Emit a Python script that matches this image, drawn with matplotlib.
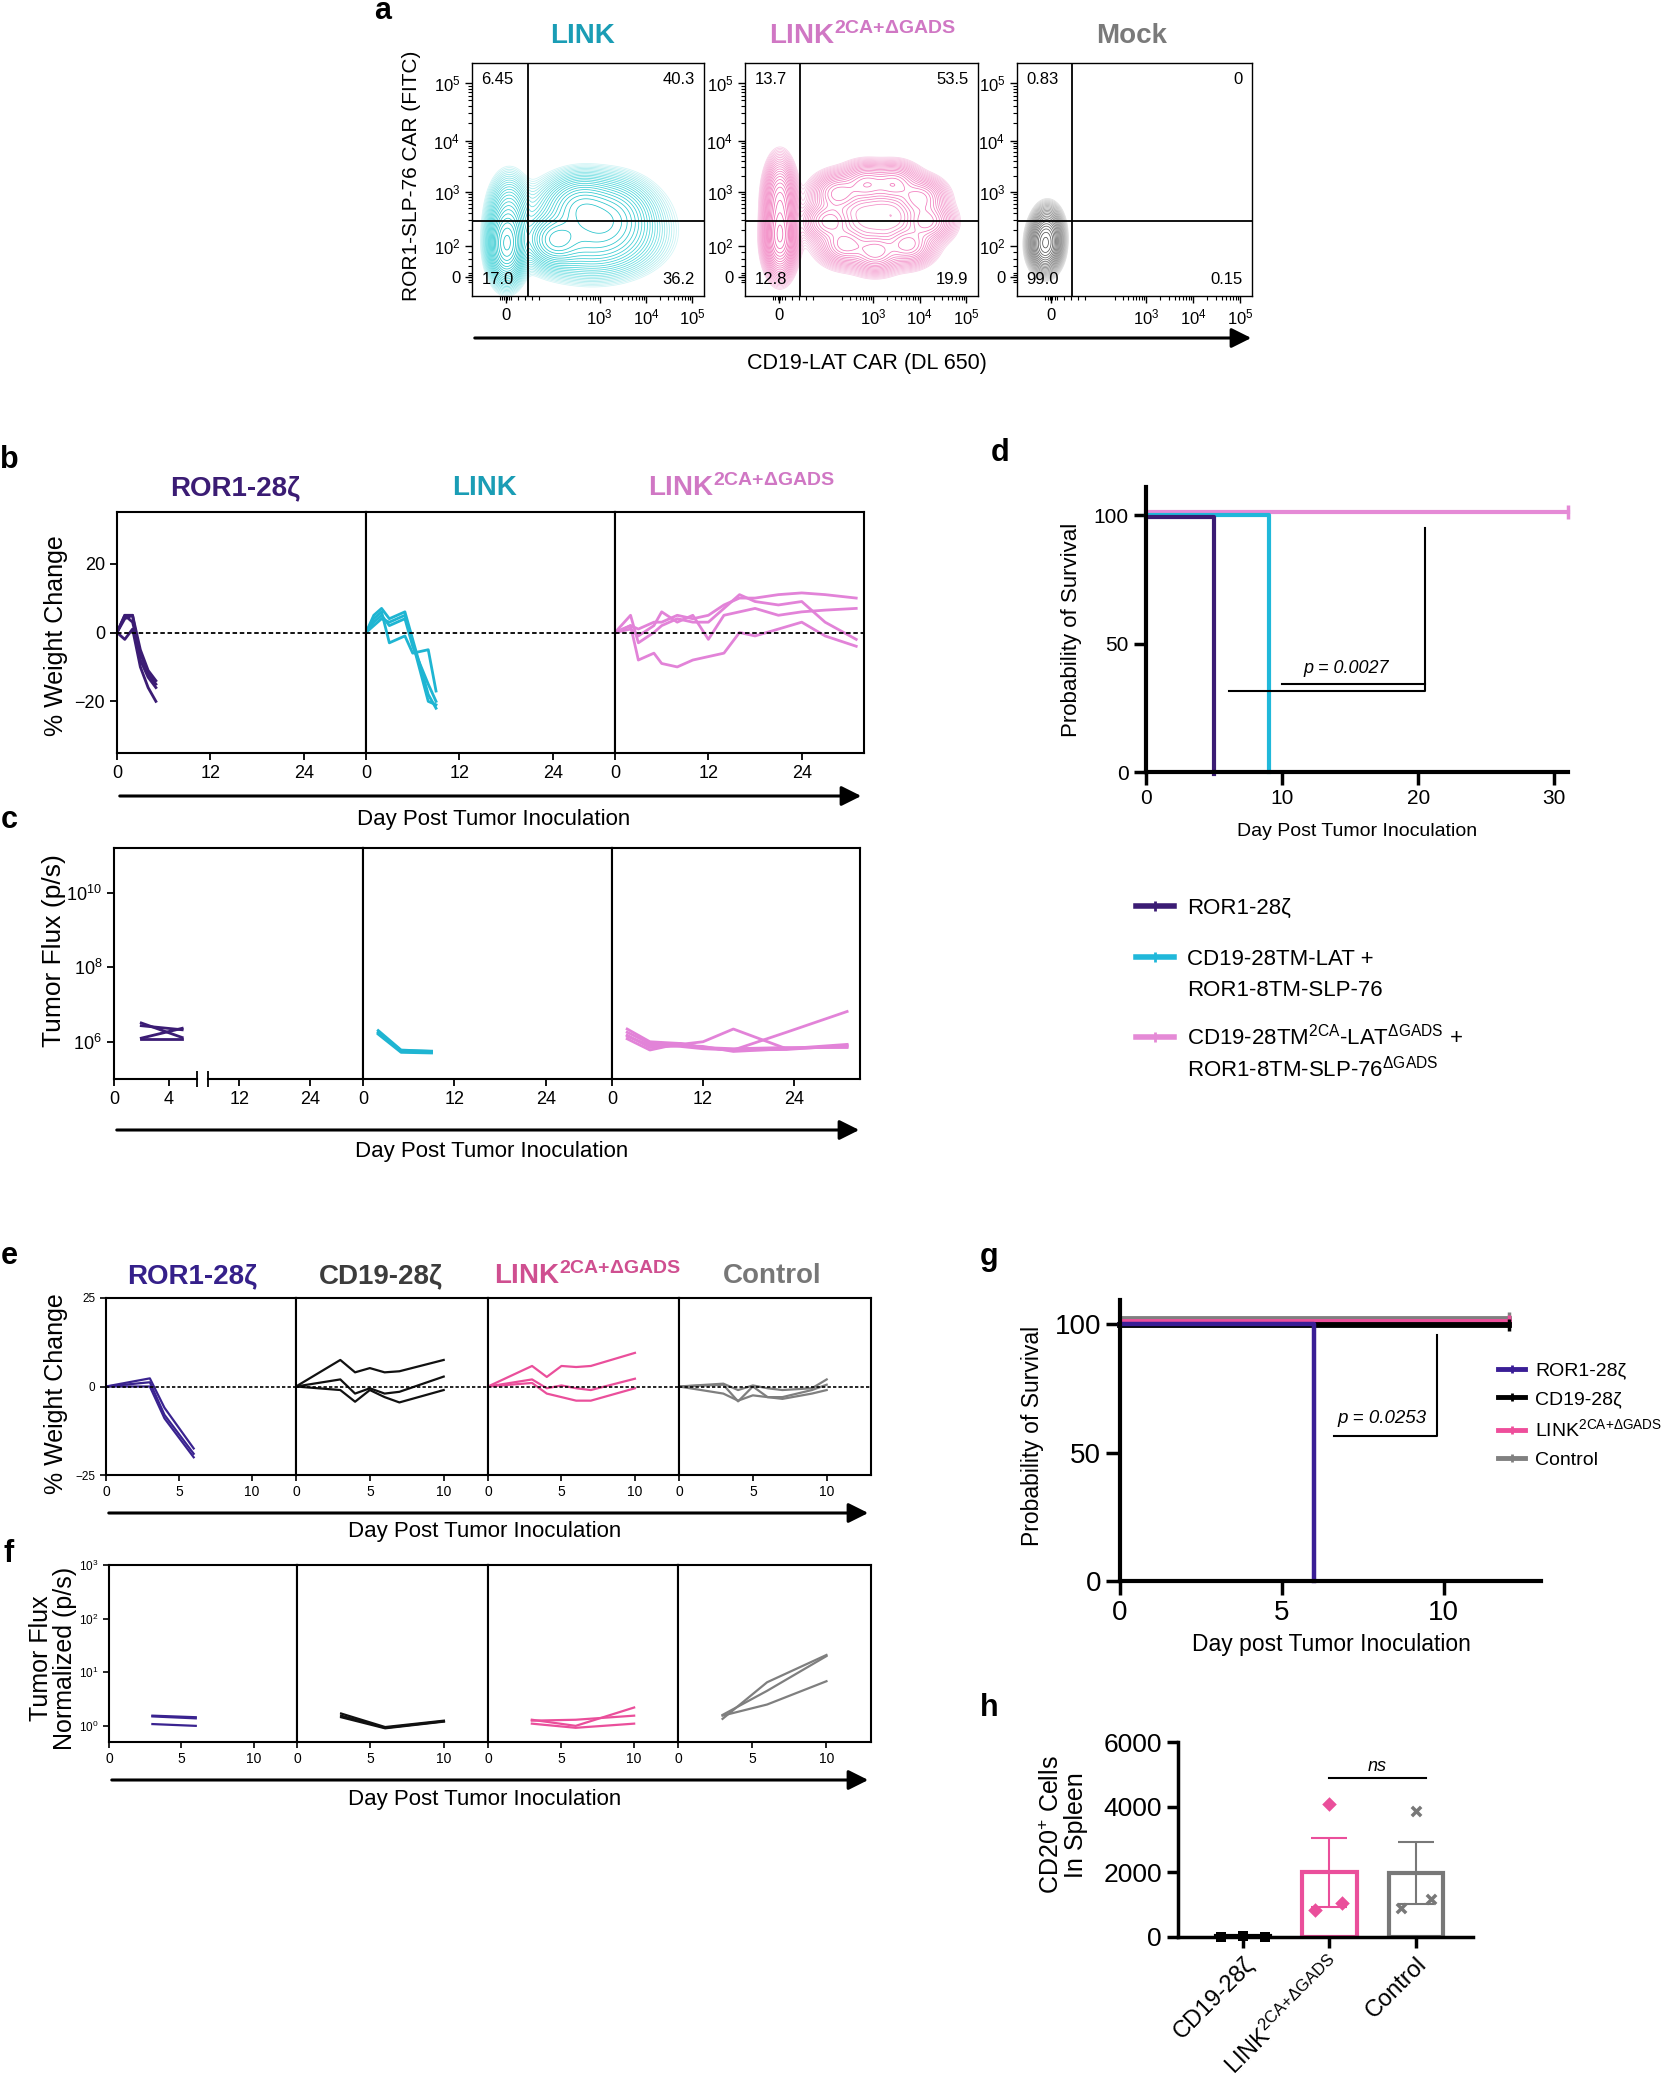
import numpy as np
import matplotlib
matplotlib.use('Agg')
import matplotlib.pyplot as plt
from matplotlib.colors import LinearSegmentedColormap, LogNorm
from matplotlib.lines import Line2D
from matplotlib.patches import FancyArrowPatch
from matplotlib.ticker import NullLocator
from matplotlib import font_manager

names = {f.name for f in font_manager.fontManager.ttflist}
NARROW = 'Liberation Sans Narrow' if 'Liberation Sans Narrow' in names else 'Liberation Sans'

plt.rcParams['font.family'] = ['Liberation Sans', 'DejaVu Sans']
plt.rcParams['mathtext.fontset'] = 'custom'
plt.rcParams['mathtext.rm'] = 'Liberation Sans'
plt.rcParams['mathtext.it'] = 'Liberation Sans:italic'
plt.rcParams['mathtext.bf'] = 'Liberation Sans:bold'

# ---------------- data ----------------
# a: flow populations (x, y, sx, sy, weight) on the biexponential display axes (0..1)
a_link_pops = [(0.15, 0.22, 0.035, 0.07, 1.0), (0.16, 0.34, 0.04, 0.08, 0.25),
               (0.36, 0.24, 0.055, 0.05, 0.55), (0.47, 0.38, 0.07, 0.06, 0.45),
               (0.60, 0.34, 0.08, 0.07, 0.40), (0.52, 0.24, 0.12, 0.07, 0.35),
               (0.50, 0.32, 0.15, 0.09, 0.12)]
a_link2_pops = [(0.15, 0.25, 0.03, 0.07, 1.0), (0.15, 0.40, 0.03, 0.08, 0.6),
                (0.40, 0.44, 0.05, 0.04, 0.3), (0.52, 0.48, 0.05, 0.04, 0.3),
                (0.64, 0.48, 0.05, 0.04, 0.3), (0.75, 0.42, 0.05, 0.04, 0.3),
                (0.78, 0.32, 0.05, 0.04, 0.3), (0.70, 0.22, 0.05, 0.04, 0.3),
                (0.56, 0.19, 0.05, 0.04, 0.3), (0.43, 0.22, 0.05, 0.04, 0.3),
                (0.36, 0.32, 0.05, 0.04, 0.3), (0.55, 0.33, 0.14, 0.10, 0.08)]
a_mock_pops = [(0.12, 0.22, 0.03, 0.05, 1.0), (0.13, 0.28, 0.03, 0.05, 0.3)]
a_titles = ['LINK', r'LINK$^{\mathbf{2CA{+}ΔGADS}}$', 'Mock']
a_quadrants = [['6.45', '40.3', '17.0', '36.2'],
               ['13.7', '53.5', '12.8', '19.9'],
               ['0.83', '0', '99.0', '0.15']]
a_gate_x = [0.243, 0.236, 0.234]
a_gate_y = 0.322

# b: % weight change
b_days_ror1 = [0, 1, 2, 3, 4, 5]
b_wt_ror1 = [[0, 5, 5, -5, -11, -14], [0, 4, 5, -8, -13, -16],
             [0, -2, 1, -10, -16, -20], [0, 5, 3, -6, -12, -15]]
b_days_link = [0, 1, 2, 3, 4, 5, 6, 8, 9]
b_wt_link = [[0, 5, 7, 4, 5, 6, -2, -18, -22], [0, 3, 5, 2, 3, 4, -4, -15, -20],
             [0, 4, 6, -3, -2, -1, -6, -5, -17], [0, 2, 4, 3, 4, 5, -3, -20, -21]]
b_days_link2 = [0, 2, 3, 5, 6, 8, 10, 12, 14, 16, 18, 21, 24, 27, 31]
b_wt_link2 = [[0, 2, 1, 3, 3, 5, 4, 5, 8, 10, 10, 11, 11.5, 11, 10],
              [0, 5, -3, 0, 2, 4, 3, 3, 7, 11, 9, 8, 9, 3, -2],
              [0, 2, -8, -6, -9, -10, -8, -7, -6, 0, -1, 1, 3, -1, -4],
              [0, 1, -1, 2, 6, 3, 5, -2, 5, 6, 7, 5, 6, 6.5, 7]]
b_titles = ['ROR1-28ζ', 'LINK', r'LINK$^{\mathbf{2CA{+}ΔGADS}}$']

# c: tumor flux (p/s)
c_days_ror1 = [2, 5]
c_flux_ror1 = [[3.2e6, 1.3e6], [2.7e6, 2.1e6], [1.25e6, 2.3e6], [1.2e6, 1.2e6]]
c_days_link = [2, 5, 9]
c_flux_link = [[2.0e6, 6.0e5, 5.5e5], [1.8e6, 5.5e5, 5.2e5],
               [1.6e6, 5.2e5, 5.0e5], [1.7e6, 5.8e5, 5.6e5]]
c_days_link2 = [2, 5, 9, 12, 16, 23, 31]
c_flux_link2 = [[2.2e6, 1.0e6, 9.0e5, 7.0e5, 6.0e5, 1.8e6, 6.5e6],
                [1.8e6, 9.0e5, 8.5e5, 1.0e6, 2.2e6, 6.5e5, 7.5e5],
                [1.5e6, 7.0e5, 8.0e5, 7.5e5, 5.5e5, 6.5e5, 8.5e5],
                [1.2e6, 6.0e5, 9.0e5, 7.0e5, 6.5e5, 7.0e5, 7.0e5],
                [1.4e6, 8.0e5, 7.5e5, 6.5e5, 6.0e5, 6.2e5, 8.0e5]]

# d: survival
d_time_ror1, d_surv_ror1 = [0, 5], [100, 0]
d_time_link, d_surv_link = [0, 9], [100, 0]
d_time_link2, d_surv_link2 = [0, 31], [100, 100]
d_labels = [['ROR1-28ζ'],
            ['CD19-28TM-LAT +', 'ROR1-8TM-SLP-76'],
            [r'CD19-28TM$^{\mathregular{2CA}}$-LAT$^{\mathregular{ΔGADS}}$ +',
             r'ROR1-8TM-SLP-76$^{\mathregular{ΔGADS}}$']]

# e: % weight change (second model)
e_days_ror1 = [0, 3, 4, 6]
e_wt_ror1 = [[0, 2.3, -6, -17.5], [0, 1.2, -8, -19], [0, 0, -9, -20]]
e_days_cd19 = [0, 3, 4, 5, 6, 7, 10]
e_wt_cd19 = [[0, 7.5, 4, 5.2, 4, 4.3, 7.5], [0, 2, -2, -0.5, -2, -1.5, 2.8],
             [0, -1, -4.3, -1, -3, -4.5, -1]]
e_days_link2 = [0, 3, 4, 5, 6, 7, 10]
e_wt_link2 = [[0, 5.8, 2.7, 5.8, 5.5, 5.8, 9.5], [0, 2, -0.5, 0.3, -0.5, -1, 2.2],
              [0, 1, -2, -3, -4, -4, -0.5]]
e_days_ctrl = [0, 3, 4, 5, 6, 7, 9, 10]
e_wt_ctrl = [[0, 0.8, -1, 0.3, -0.5, -1, -0.5, 2], [0, 0.5, -4.2, 0, -3, -3.5, -2, -1],
             [0, -2, -4, -2.5, -3, -3, -1, 0.5]]
e_titles = ['ROR1-28ζ', 'CD19-28ζ', r'LINK$^{\mathbf{2CA{+}ΔGADS}}$', 'Control']

# f: normalized tumor flux
f_days = [3, 6, 10]
f_flux_ror1 = [[1.55, 1.45], [1.5, 1.38], [1.08, 1.0]]
f_flux_cd19 = [[1.7, 0.95, 1.25], [1.55, 0.92, 1.22], [1.45, 0.9, 1.2]]
f_flux_link2 = [[1.3, 1.0, 2.2], [1.25, 1.3, 1.55], [1.1, 0.92, 1.1]]
f_flux_ctrl = [[1.35, 6.5, 21], [1.6, 4.5, 20], [1.55, 2.5, 6.8]]

# g: survival (second model)
g_time_ror1, g_surv_ror1 = [0, 6], [100, 0]
g_time_cd19, g_surv_cd19 = [0, 12], [100, 100]
g_time_link2, g_surv_link2 = [0, 12], [100, 100]
g_time_ctrl, g_surv_ctrl = [0, 12], [100, 100]
g_labels = ['ROR1-28ζ', 'CD19-28ζ', r'LINK$^{\mathregular{2CA{+}ΔGADS}}$', 'Control']

# h: CD20+ cells in spleen
h_groups = ['CD19-28ζ', r'LINK$^{\mathregular{2CA{+}ΔGADS}}$', 'Control']
h_vals_cd19 = [10, 40, 10]
h_vals_link2 = [4100, 820, 1040]
h_vals_ctrl = [3870, 880, 1160]

# colours
C_PURPLE = '#3B1C74'
C_CYAN = '#1FB5D2'
C_ORCHID = '#E283D8'
C_E_PURPLE = '#3A2390'
C_PINK = '#EA4F9B'
C_GREY = '#7F7F7F'

W, H = 1676, 2100
fig = plt.figure(figsize=(W / 100, H / 100), dpi=100)


def add_ax(x0, y0, x1, y1):
    return fig.add_axes([x0 / W, 1 - y1 / H, (x1 - x0) / W, (y1 - y0) / H])


def ftext(x, y, s, **kw):
    return fig.text(x / W, 1 - y / H, s, **kw)


def arrow(x0, x1, y):
    fig.add_artist(FancyArrowPatch((x0 / W, 1 - y / H), (x1 / W, 1 - y / H),
                                   transform=fig.transFigure, arrowstyle='-|>',
                                   mutation_scale=30, lw=2.2, color='black'))


def frame(ax, lw=1.5):
    for s in ax.spines.values():
        s.set_linewidth(lw)


# ---------------- panel a ----------------
gx, gy = np.meshgrid(np.linspace(0, 1, 300), np.linspace(0, 1, 300))


def density(pops):
    z = np.zeros_like(gx)
    for cx, cy, sx, sy, w in pops:
        z += w * np.exp(-0.5 * (((gx - cx) / sx) ** 2 + ((gy - cy) / sy) ** 2))
    return z


flow_xpos = [0.145, 0.55, 0.75, 0.95]
flow_xlab = ['0', '$10^3$', '$10^4$', '$10^5$']
flow_ypos = [0.08, 0.213, 0.448, 0.667, 0.914]
flow_ylab = ['0', '$10^2$', '$10^3$', '$10^4$', '$10^5$']
x_dec = [0.36, 0.55, 0.75, 0.95]
y_dec = [0.213, 0.448, 0.667, 0.914]
x_minor = [0.12, 0.13, 0.14, 0.15, 0.16, 0.17, 0.2, 0.23, 0.26, 0.29]
y_minor = [0.06, 0.07, 0.09, 0.10, 0.13, 0.16, 0.19]
for dec, minor in ((x_dec, x_minor), (y_dec, y_minor)):
    for k in range(len(dec) - 1):
        for m in range(2, 10):
            minor.append(dec[k] + (dec[k + 1] - dec[k]) * np.log10(m))

a_cmaps = [['#D2F5F6', '#4CD6DB', '#18BEC6'],
           ['#F9D2E9', '#F38FC8', '#EF62B0'],
           ['#E0E0E0', '#8E8E8E', '#505050']]
a_title_cols = ['#1A9DB5', '#D077C4', '#7A7A7A']
a_edges = [(472, 704), (745, 978), (1017, 1252)]
a_centers = [583, 862, 1132]
for i, pops in enumerate([a_link_pops, a_link2_pops, a_mock_pops]):
    ax = add_ax(a_edges[i][0], 63, a_edges[i][1], 296)
    z = density(pops)
    lv = np.geomspace(z.max() * 0.006, z.max() * 0.92, 24)
    cmap = LinearSegmentedColormap.from_list('c', a_cmaps[i])
    ax.contour(gx, gy, z, levels=lv, cmap=cmap, norm=LogNorm(lv[0], lv[-1]),
               linewidths=0.55)
    ax.axvline(a_gate_x[i], color='black', lw=1.3)
    ax.axhline(a_gate_y, color='black', lw=1.3)
    ax.set_xlim(0, 1)
    ax.set_ylim(0, 1)
    ax.set_xticks(flow_xpos, flow_xlab)
    ax.set_yticks(flow_ypos, flow_ylab)
    ax.set_xticks(x_minor, minor=True)
    ax.set_yticks(y_minor, minor=True)
    ax.tick_params(labelsize=12, length=5, width=1, labelfontfamily=NARROW)
    ax.tick_params(which='minor', length=3, width=0.8)
    frame(ax, 1.0)
    q = a_quadrants[i]
    kw = dict(transform=ax.transAxes, fontsize=12, family=NARROW)
    ax.text(0.04, 0.93, q[0], ha='left', va='center', **kw)
    ax.text(0.96, 0.93, q[1], ha='right', va='center', **kw)
    ax.text(0.04, 0.07, q[2], ha='left', va='center', **kw)
    ax.text(0.96, 0.07, q[3], ha='right', va='center', **kw)
    ftext(a_centers[i], 36, a_titles[i], fontsize=20, fontweight='bold',
          color=a_title_cols[i], ha='center', va='center')

ftext(411, 176, 'ROR1-SLP-76 CAR (FITC)', fontsize=15, rotation=90, ha='center', va='center')
arrow(472, 1254, 338)
ftext(867, 363, 'CD19-LAT CAR (DL 650)', fontsize=15.5, ha='center', va='center')

# ---------------- panel b ----------------
b_groups = [(b_days_ror1, b_wt_ror1, C_PURPLE), (b_days_link, b_wt_link, C_CYAN),
            (b_days_link2, b_wt_link2, C_ORCHID)]
b_edges = [117, 366, 615, 864]
b_centers = [235, 484, 741]
b_title_cols = ['#3B1C74', '#1A9DB5', '#D077C4']
for i, (days, rows, col) in enumerate(b_groups):
    ax = add_ax(b_edges[i], 512, b_edges[i + 1], 753)
    for row in rows:
        ax.plot(days, row, color=col, lw=2)
    ax.axhline(0, color='black', lw=1.3, ls=(0, (2.5, 1.5)))
    ax.set_xlim(0, 32)
    ax.set_ylim(-35, 35)
    ax.set_xticks([0, 12, 24])
    ax.set_yticks([-20, 0, 20] if i == 0 else [])
    ax.tick_params(labelsize=13, length=5, width=1.3, labelfontfamily=NARROW)
    frame(ax)
    ftext(b_centers[i], 488, b_titles[i], fontsize=20, fontweight='bold',
          color=b_title_cols[i], ha='center', va='center')
ftext(56, 636, '% Weight Change', fontsize=18, rotation=90, ha='center', va='center')
arrow(117, 864, 796)
ftext(494, 819, 'Day Post Tumor Inoculation', fontsize=16, ha='center', va='center')

# ---------------- panel c ----------------
c_groups = [(c_days_ror1, c_flux_ror1, C_PURPLE), (c_days_link, c_flux_link, C_CYAN),
            (c_days_link2, c_flux_link2, C_ORCHID)]
c_edges = [114, 363, 612, 860]
brk_days = [0, 6.06, 6.7, 33.1]
brk_pos = [0, 147, 168, 443]
for i, (days, rows, col) in enumerate(c_groups):
    ax = add_ax(c_edges[i], 848, c_edges[i + 1], 1079)
    if i == 0:
        ax.set_xscale('function', functions=(lambda d: np.interp(d, brk_days, brk_pos),
                                             lambda p: np.interp(p, brk_pos, brk_days)))
        ax.set_xlim(0, 33.1)
        ax.set_xticks([0, 4, 12, 24])
        ax.spines['bottom'].set_visible(False)
        bt = ax.get_xaxis_transform()
        ax.plot([0, 6.06], [0, 0], color='black', lw=1.5, transform=bt, clip_on=False)
        ax.plot([6.7, 33.1], [0, 0], color='black', lw=1.5, transform=bt, clip_on=False)
        ax.plot([6.06, 6.7], [0, 0], ls='none', marker='|', ms=12, mew=1.3,
                color='black', transform=bt, clip_on=False)
    else:
        ax.set_xlim(0, 32.7)
        ax.set_xticks([0, 12, 24])
    for row in rows:
        ax.plot(days, row, color=col, lw=2)
    ax.set_yscale('log')
    ax.set_ylim(1e5, 1.6e11)
    ax.yaxis.set_minor_locator(NullLocator())
    if i == 0:
        ax.set_yticks([1e6, 1e8, 1e10], ['$10^6$', '$10^8$', '$10^{10}$'])
    else:
        ax.set_yticks([])
    ax.tick_params(labelsize=13, length=5, width=1.3, labelfontfamily=NARROW)
    frame(ax)
ftext(54, 951, 'Tumor Flux (p/s)', fontsize=19, rotation=90, ha='center', va='center')
arrow(114, 862, 1130)
ftext(492, 1152, 'Day Post Tumor Inoculation', fontsize=16, ha='center', va='center')

# ---------------- panel d ----------------
ax = add_ax(1146, 487, 1568, 772)
off = [-0.8, 0.0, 1.3]
d_cols = [C_PURPLE, '#20B8DA', '#E58AD6']
d_series = [(d_time_ror1, d_surv_ror1), (d_time_link, d_surv_link), (d_time_link2, d_surv_link2)]
for k in (2, 1, 0):
    t, s = d_series[k]
    ax.step(t, np.array(s) + off[k], where='post', color=d_cols[k], lw=3, clip_on=False)
ax.plot(d_time_link2[-1], d_surv_link2[-1] + off[2], marker='|', ms=10, mew=2.5,
        color=d_cols[2], clip_on=False)
ax.plot([20.5, 20.5, 6.1], [95.2, 31.7, 31.7], color='black', lw=1.5)
ax.plot([10, 20.5], [34.3, 34.3], color='black', lw=1.5)
ax.text(14.7, 40.4, 'p = 0.0027', fontsize=13, style='italic', ha='center', va='center')
ax.set_xlim(0, 31)
ax.set_ylim(0, 111)
ax.set_xticks([0, 10, 20, 30])
ax.set_yticks([0, 50, 100])
ax.spines[['top', 'right']].set_visible(False)
ax.spines[['left', 'bottom']].set_linewidth(3)
ax.tick_params(labelsize=15, length=9, width=2.5, labelfontfamily=NARROW)
ftext(1071, 630, 'Probability of Survival', fontsize=16, rotation=90, ha='center', va='center')
ftext(1357, 831, 'Day Post Tumor Inoculation', fontsize=14, ha='center', va='center')

# legend for b-d
leg_y = [[906], [957, 988], [1037, 1068]]
for k in range(3):
    yk = 1 - leg_y[k][0] / H
    fig.add_artist(Line2D([1136 / W, 1155 / W, 1174 / W], [yk, yk, yk], color=d_cols[k],
                          lw=4, marker='|', ms=7, mew=2, markevery=[1],
                          transform=fig.transFigure))
    for j, line in enumerate(d_labels[k]):
        ftext(1187, leg_y[k][j] + 8, line, fontsize=16, ha='left', va='baseline')

# ---------------- panel e ----------------
e_groups = [(e_days_ror1, e_wt_ror1, C_E_PURPLE), (e_days_cd19, e_wt_cd19, '#111111'),
            (e_days_link2, e_wt_link2, C_PINK), (e_days_ctrl, e_wt_ctrl, C_GREY)]
e_edges = [106, 296, 488, 679, 871]
e_centers = [192, 381, 587, 772]
e_title_cols = ['#35208A', '#3C3C3C', '#CF4F90', '#777777']
for i, (days, rows, col) in enumerate(e_groups):
    ax = add_ax(e_edges[i], 1298, e_edges[i + 1], 1475)
    for row in rows:
        ax.plot(days, row, color=col, lw=1.6)
    ax.axhline(0, color='black', lw=1.2, ls=(0, (2, 1.3)))
    ax.set_xlim(0, 13)
    ax.set_ylim(-25, 25)
    ax.set_xticks([0, 5, 10])
    ax.set_yticks([-25, 0, 25] if i == 0 else [])
    ax.tick_params(axis='x', labelsize=10, length=4, width=1.2, labelfontfamily=NARROW)
    ax.tick_params(axis='y', labelsize=8.5, length=4, width=1.2, labelfontfamily=NARROW)
    frame(ax)
    ftext(e_centers[i], 1276, e_titles[i], fontsize=20, fontweight='bold',
          color=e_title_cols[i], ha='center', va='center')
ftext(56, 1394, '% Weight Change', fontsize=18, rotation=90, ha='center', va='center')
arrow(106, 871, 1513)
ftext(485, 1532, 'Day Post Tumor Inoculation', fontsize=16, ha='center', va='center')

# ---------------- panel f ----------------
f_groups = [(f_days[:2], f_flux_ror1, C_E_PURPLE), (f_days, f_flux_cd19, '#111111'),
            (f_days, f_flux_link2, C_PINK), (f_days, f_flux_ctrl, C_GREY)]
f_edges = [109, 297, 488, 678, 871]
for i, (days, rows, col) in enumerate(f_groups):
    ax = add_ax(f_edges[i], 1565, f_edges[i + 1], 1742)
    for row in rows:
        ax.plot(days, row, color=col, lw=1.6)
    ax.set_yscale('log')
    ax.set_ylim(0.5, 1000)
    ax.yaxis.set_minor_locator(NullLocator())
    ax.set_xlim(0, 13)
    ax.set_xticks([0, 5, 10])
    if i == 0:
        ax.set_yticks([1, 10, 100, 1000], ['$10^0$', '$10^1$', '$10^2$', '$10^3$'])
    else:
        ax.set_yticks([])
    ax.tick_params(axis='x', labelsize=10, length=4, width=1.2, labelfontfamily=NARROW)
    ax.tick_params(axis='y', labelsize=8.5, length=4, width=1.2)
    frame(ax)
ftext(53, 1658, 'Tumor Flux\nNormalized (p/s)', fontsize=18, rotation=90, ha='center',
      va='center', linespacing=1.0)
arrow(109, 871, 1780)
ftext(485, 1800, 'Day Post Tumor Inoculation', fontsize=16, ha='center', va='center')

# ---------------- panel g ----------------
ax = add_ax(1120, 1300, 1541, 1581)
g_cols = ['#3A1E96', '#000000', '#EE4E9B', '#808080']
g_series = [(g_time_ror1, g_surv_ror1), (g_time_cd19, g_surv_cd19),
            (g_time_link2, g_surv_link2), (g_time_ctrl, g_surv_ctrl)]
g_off = [0.0, -0.4, 1.3, 2.4]
g_lw = [3.2, 4.2, 3.5, 3.5]
for k in (3, 2, 1, 0):
    t, s = g_series[k]
    ax.step(t, np.array(s) + g_off[k], where='post', color=g_cols[k], lw=g_lw[k], clip_on=False)
    if s[-1] > 0:
        ax.plot(t[-1], s[-1] + g_off[k], marker='|', ms=9, mew=2.5, color=g_cols[k],
                clip_on=False)
ax.plot([9.8, 9.8, 6.6], [96, 56.5, 56.5], color='black', lw=1.5)
ax.text(8.1, 63.5, 'p = 0.0253', fontsize=13.5, style='italic', ha='center', va='center')
ax.set_xlim(0, 13)
ax.set_ylim(0, 109.5)
ax.set_xticks([0, 5, 10])
ax.set_yticks([0, 50, 100])
ax.spines[['top', 'right']].set_visible(False)
ax.spines[['left', 'bottom']].set_linewidth(3)
ax.tick_params(labelsize=20, length=10, width=2.5, labelfontfamily=NARROW)
handles = [Line2D([], [], color=c, lw=3.5, marker='|', ms=6, mew=2) for c in g_cols]
ax.legend(handles, g_labels, loc='upper left', bbox_to_anchor=(1498 / W, 1 - 1362 / H),
          bbox_transform=fig.transFigure, frameon=False, fontsize=14, handlelength=1.4,
          handletextpad=0.5, labelspacing=0.55, borderpad=0, borderaxespad=0, numpoints=1)
ftext(1032, 1436, 'Probability of Survival', fontsize=16.5, rotation=90, ha='center', va='center')
ftext(1331, 1645, 'Day post Tumor Inoculation', fontsize=16.5, ha='center', va='center')

# ---------------- panel h ----------------
ax = add_ax(1178, 1742, 1473, 1937)
h_vals = [h_vals_cd19, h_vals_link2, h_vals_ctrl]
h_cols = ['#000000', C_PINK, '#787878']
h_markers = ['s', 'D', 'x']
h_offsets = [[-0.25, 0.0, 0.25], [0.0, -0.17, 0.15], [0.0, -0.17, 0.17]]
means = [np.mean(v) for v in h_vals]
sems = [np.std(v, ddof=1) / np.sqrt(len(v)) for v in h_vals]
ax.bar(range(3), means, width=0.63, facecolor='none', edgecolor=h_cols, lw=3, zorder=2)
for k in (1, 2):
    ax.errorbar(k, means[k], yerr=sems[k], fmt='none', ecolor=h_cols[k], elinewidth=1.5,
                capsize=13, capthick=1.5, zorder=3)
for k in range(3):
    ax.scatter(k + np.array(h_offsets[k]), h_vals[k], marker=h_markers[k], color=h_cols[k],
               s=55 if h_markers[k] != 'x' else 45, linewidths=2.5 if h_markers[k] == 'x' else 0,
               zorder=4, clip_on=False)
ax.plot([1, 2.12], [4900, 4900], color='black', lw=1.5)
ax.text(1.55, 5250, 'ns', fontsize=13, style='italic', ha='center', va='center')
ax.set_xlim(-0.75, 2.66)
ax.set_ylim(0, 6000)
ax.set_yticks([0, 2000, 4000, 6000])
ax.set_xticks(range(3), h_groups, rotation=45, ha='right', rotation_mode='anchor')
ax.spines[['top', 'right']].set_visible(False)
ax.spines[['left', 'bottom']].set_linewidth(2.5)
ax.tick_params(axis='y', labelsize=19, length=8, width=2.5)
ax.tick_params(axis='x', labelsize=17, length=8, width=2.5)
ftext(1064, 1825, 'CD20$^{\\mathregular{+}}$ Cells\nIn Spleen', fontsize=18, rotation=90,
      ha='center', va='center', linespacing=1.0)

# ---------------- panel letters ----------------
for s, x, y in [('a', 383, 11), ('b', 9, 460), ('c', 9, 820), ('d', 1000, 453),
                ('e', 9, 1256), ('f', 9, 1554), ('g', 989, 1257), ('h', 989, 1708)]:
    ftext(x, y, s, fontsize=22, fontweight='bold', ha='center', va='center')

fig.savefig('out.png', dpi=100)
